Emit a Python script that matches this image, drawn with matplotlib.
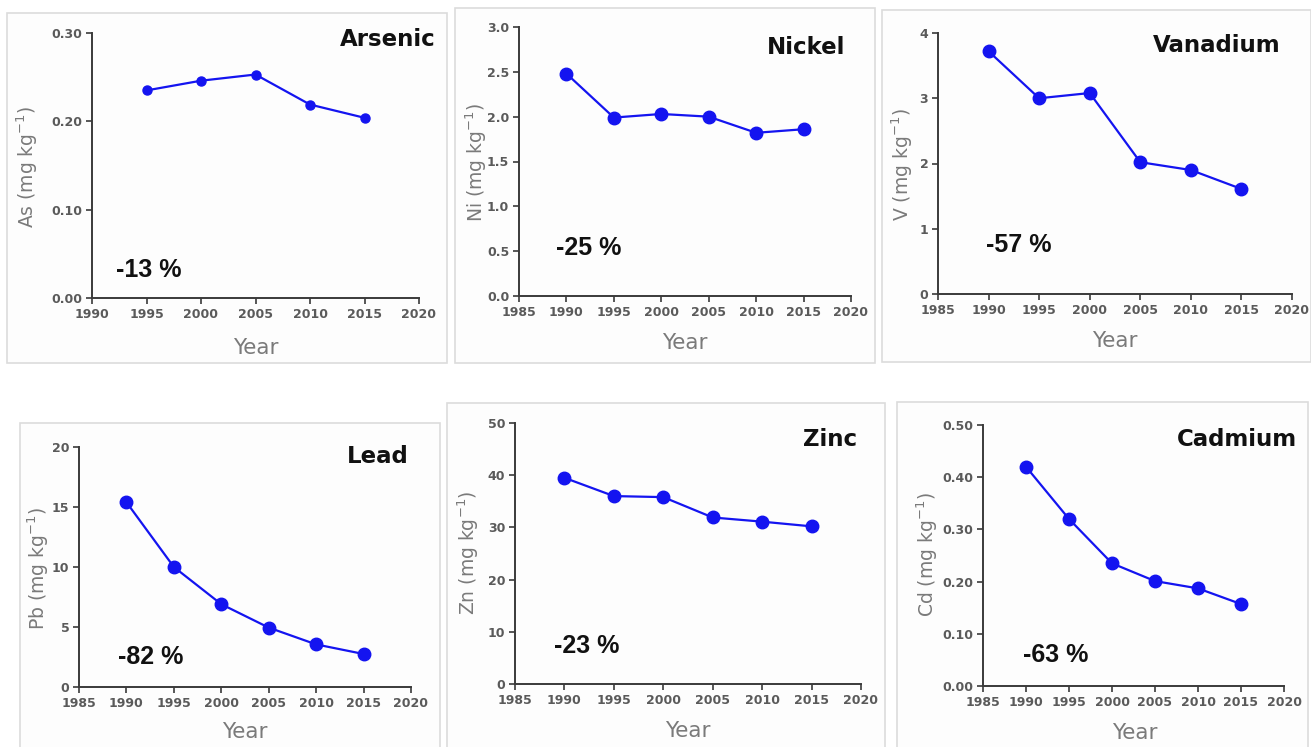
import numpy as np
import matplotlib.pyplot as plt
from matplotlib.patches import Rectangle

plt.rcParams["font.family"] = "DejaVu Sans"

W, H = 1311, 747

# data
years_as = [1995, 2000, 2005, 2010, 2015]
arsenic = [0.235, 0.246, 0.253, 0.219, 0.204]

years = [1990, 1995, 2000, 2005, 2010, 2015]
nickel = [2.48, 1.99, 2.03, 2.00, 1.82, 1.86]
vanadium = [3.72, 3.00, 3.08, 2.02, 1.90, 1.61]
lead = [15.4, 10.0, 6.9, 4.95, 3.55, 2.75]
zinc = [39.5, 36.0, 35.8, 31.9, 31.1, 30.2]
cadmium = [0.420, 0.320, 0.235, 0.201, 0.187, 0.157]

names = ["Arsenic", "Nickel", "Vanadium", "Lead", "Zinc", "Cadmium"]
symbols = ["As", "Ni", "V", "Pb", "Zn", "Cd"]
changes = ["-13 %", "-25 %", "-57 %", "-82 %", "-23 %", "-63 %"]


def px(x0, y0, x1, y1):
    # pixel box (top-left origin) -> figure fraction [l, b, w, h]
    return [x0 / W, 1 - y1 / H, (x1 - x0) / W, (y1 - y0) / H]


def ftext(fig, x, y, s, **kw):
    fig.text(x / W, 1 - y / H, s, **kw)


panels = [
    dict(x=years_as, y=arsenic, box=(7, 13, 447, 363), ax=(92, 33, 419, 298),
         xlim=(1990, 2020), ylim=(0, 0.30), yt=[0, 0.1, 0.2, 0.3], fmt="{:.2f}",
         title=(436, 40), pct=(116, 270), ylab=(27, 167), year=(256, 348), ms=6.5),
    dict(x=years, y=nickel, box=(455, 8, 875, 363), ax=(519, 27, 851, 296),
         xlim=(1985, 2020), ylim=(0, 3.0), yt=np.arange(0, 3.01, 0.5), fmt="{:.1f}",
         title=(845, 47), pct=(556, 248), ylab=(476, 162), year=(685, 343), ms=9),
    dict(x=years, y=vanadium, box=(882, 10, 1311, 362), ax=(938, 33, 1292, 294),
         xlim=(1985, 2020), ylim=(0, 4), yt=[0, 1, 2, 3, 4], fmt="{:.0f}",
         title=(1281, 45), pct=(986, 245), ylab=(902, 165), year=(1115, 341), ms=9),
    dict(x=years, y=lead, box=(20, 423, 440, 760), ax=(79, 447, 411, 687),
         xlim=(1985, 2020), ylim=(0, 20), yt=[0, 5, 10, 15, 20], fmt="{:.0f}",
         title=(409, 457), pct=(118, 657), ylab=(38, 568), year=(245, 732), ms=9),
    dict(x=years, y=zinc, box=(447, 403, 885, 760), ax=(515, 423, 861, 684),
         xlim=(1985, 2020), ylim=(0, 50), yt=[0, 10, 20, 30, 40, 50], fmt="{:.0f}",
         title=(857, 439), pct=(554, 646), ylab=(468, 553), year=(688, 731), ms=9),
    dict(x=years, y=cadmium, box=(897, 402, 1308, 760), ax=(983, 425, 1284, 686),
         xlim=(1985, 2020), ylim=(0, 0.50), yt=[0, 0.1, 0.2, 0.3, 0.4, 0.5], fmt="{:.2f}",
         title=(1297, 439), pct=(1023, 655), ylab=(927, 555), year=(1135, 733), ms=9),
]

fig = plt.figure(figsize=(W / 100, H / 100), dpi=100)
fig.patch.set_facecolor("white")

gray = "#5a5a5a"
label_gray = "#7a7a7a"
blue = "#1414f0"

for p, name, sym, pct in zip(panels, names, symbols, changes):
    bx = px(*p["box"])
    fig.patches.append(Rectangle((bx[0], bx[1]), bx[2], bx[3], transform=fig.transFigure,
                                 facecolor="#fdfdfd", edgecolor="#dcdcdc", linewidth=1.2,
                                 zorder=-5))

    ax = fig.add_axes(px(*p["ax"]))
    ax.set_zorder(2)
    ax.patch.set_alpha(0)
    ax.plot(p["x"], p["y"], color=blue, linewidth=1.6, marker="o",
            markersize=p["ms"], markerfacecolor=blue, markeredgecolor=blue, zorder=3)

    ax.set_xlim(*p["xlim"])
    ax.set_ylim(*p["ylim"])
    ax.set_xticks(np.arange(p["xlim"][0], p["xlim"][1] + 1, 5))
    ax.set_yticks(p["yt"])
    ax.set_yticklabels([p["fmt"].format(v) for v in p["yt"]])

    for s in ["top", "right"]:
        ax.spines[s].set_visible(False)
    for s in ["left", "bottom"]:
        ax.spines[s].set_color("#3a3a3a")
        ax.spines[s].set_linewidth(1.4)
    ax.tick_params(axis="both", direction="out", length=4, width=1.2, color="#3a3a3a",
                   labelsize=9, labelcolor=gray, pad=3)
    for lab in ax.get_xticklabels() + ax.get_yticklabels():
        lab.set_fontweight("bold")

    ftext(fig, *p["title"], name, ha="right", va="center", fontsize=16.5,
          fontweight="bold", color="#111111", zorder=5)
    ftext(fig, *p["pct"], pct, ha="left", va="center", fontsize=18,
          fontweight="bold", color="#111111", family="Liberation Sans", zorder=5)
    ftext(fig, *p["ylab"], sym + r" (mg kg$^{-1}$)", ha="center", va="center",
          rotation=90, fontsize=13.5, color=label_gray, zorder=5)
    ftext(fig, *p["year"], "Year", ha="center", va="center", fontsize=15.5,
          color=label_gray, zorder=5)

fig.savefig("out.png", dpi=100)
